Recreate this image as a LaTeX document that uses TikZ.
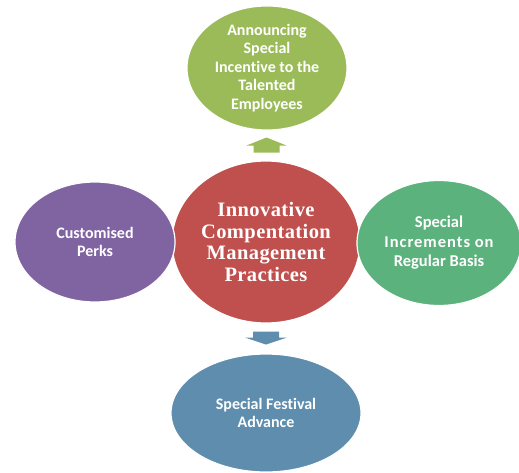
\documentclass[tikz,border=0pt]{standalone}
\usepackage{fontspec}
\setmainfont{Carlito}[Ligatures=CommonOff]
\newfontfamily\serifhub{Liberation Serif}[LetterSpace=2]
\usepackage{xcolor}
\usepackage{tikz}
\usetikzlibrary{
	positioning,      % posizionamento dei nodi
	calc,             % punti medi tra i nodi
	shapes.geometric  % forma ellisse
}

\definecolor{rosso}{HTML}{C0504D}
\definecolor{verdeoliva}{HTML}{9BBB59}
\definecolor{viola}{HTML}{8064A2}
\definecolor{verde}{HTML}{5CB27D}
\definecolor{azzurro}{HTML}{5F8DAE}

\begin{document}
\begin{tikzpicture}[
	x=1pt, y=-1pt,
	petalo/.style={ellipse, draw=white, line width=1.2pt, inner sep=0pt,
		text=white, align=center,
		font=\bfseries\fontsize{16}{18.5}\selectfont},
	centrale/.style={petalo, fill=rosso,
		font=\serifhub\bfseries\fontsize{20.5}{21.5}\selectfont}
	]
	
	\useasboundingbox (0,0) rectangle (519,473);
	
	% --- Ellisse centrale ---
	\node[centrale, minimum width=188pt, minimum height=162pt] (centro) at (266,242)
		{Innovative\\Compentation\\Management\\Practices};
	
	% --- Ellissi intorno ---
	\node[petalo, fill=verdeoliva, minimum width=160pt, minimum height=121pt] (cima) at (267,68)
		{Announcing\\Special\\Incentive to the\\Talented\\Employees};
	\node[petalo, fill=viola, minimum width=160pt, minimum height=120pt] (sinistra) at (95,242)
		{Customised\\Perks};
	\node[petalo, fill=verde, minimum width=164pt, minimum height=125pt,
		font=\bfseries\fontsize{16.5}{19.5}\selectfont] (destra) at (439,243)
		{Special\\{\addfontfeature{LetterSpace=6}Increments on}\\Regular Basis};
	\node[petalo, fill=azzurro, minimum width=190pt, minimum height=118pt] (fondo) at (266,413)
		{Special Festival\\Advance};
	
	% --- Frecce a blocco ---
	\coordinate (su) at ($(centro.north)!0.5!(cima.south)$);
	\coordinate (giu) at ($(centro.south)!0.5!(fondo.north)$);
	
	% freccia verso l'alto
	\fill[verdeoliva, shift={(su)}]
		(-13,7) -- (-13,0) -- (-20,0) -- (0,-8) -- (20,0) -- (13,0) -- (13,7) -- cycle;
	% freccia verso il basso
	\fill[azzurro, shift={(giu)}]
		(-13,-7) -- (-13,-1) -- (-21,-1) -- (0,6) -- (21,-1) -- (13,-1) -- (13,-7) -- cycle;
	
\end{tikzpicture}
\end{document}
